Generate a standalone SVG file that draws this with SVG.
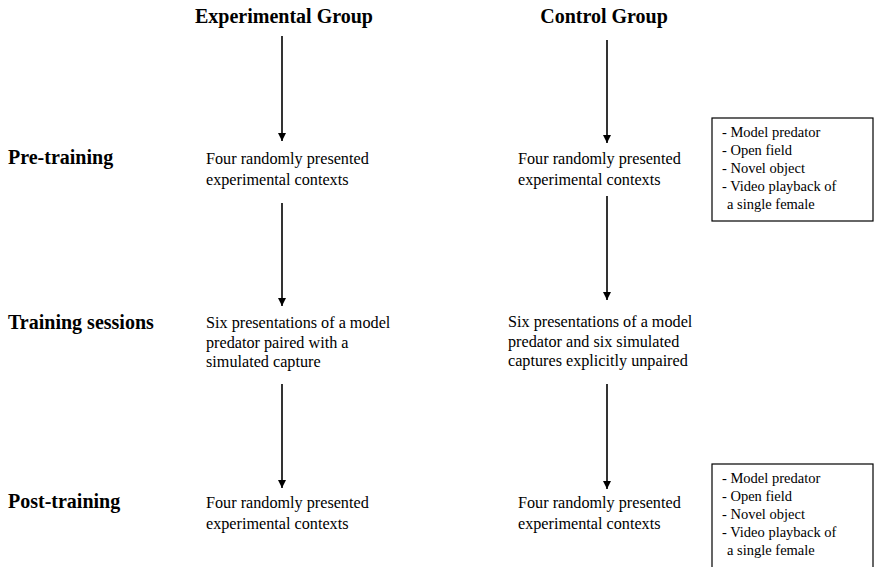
<svg xmlns="http://www.w3.org/2000/svg" width="874" height="567" viewBox="0 0 874 567">
<defs>
<style>
.h{font-family:"Liberation Serif","Times New Roman",serif;font-weight:bold;font-size:20px;fill:#000}
.t{font-family:"Liberation Serif","Times New Roman",serif;font-size:16.2px;fill:#000}
.b{font-family:"Liberation Serif","Times New Roman",serif;font-size:14.5px;fill:#000}
.ln{stroke:#000;stroke-width:1.6;fill:none}
.box{stroke:#000;stroke-width:1.2;fill:#fff}
</style>
<marker id="ah" viewBox="0 0 10 10" refX="10" refY="5" markerWidth="8" markerHeight="8" markerUnits="userSpaceOnUse" orient="auto">
<path d="M0,0 L10,5 L0,10 z" fill="#000"/>
</marker>
</defs>
<rect width="874" height="567" fill="#fff"/>
<g id="headers">
<text class="h" x="284" y="23" text-anchor="middle">Experimental Group</text>
<text class="h" x="604" y="23" text-anchor="middle">Control Group</text>
</g>
<g id="row-labels">
<text class="h" x="8" y="164">Pre-training</text>
<text class="h" x="8" y="329">Training sessions</text>
<text class="h" x="8" y="508">Post-training</text>
</g>
<g id="exp-pre">
<text class="t" x="206" y="164">Four randomly presented</text>
<text class="t" x="206" y="185">experimental contexts</text>
</g>
<g id="ctl-pre">
<text class="t" x="518" y="164">Four randomly presented</text>
<text class="t" x="518" y="185">experimental contexts</text>
</g>
<g id="exp-train">
<text class="t" x="206" y="328">Six presentations of a model</text>
<text class="t" x="206" y="348">predator paired with a</text>
<text class="t" x="206" y="367">simulated capture</text>
</g>
<g id="ctl-train">
<text class="t" x="508" y="327">Six presentations of a model</text>
<text class="t" x="508" y="347">predator and six simulated</text>
<text class="t" x="508" y="366">captures explicitly unpaired</text>
</g>
<g id="exp-post">
<text class="t" x="206" y="508">Four randomly presented</text>
<text class="t" x="206" y="529">experimental contexts</text>
</g>
<g id="ctl-post">
<text class="t" x="518" y="508">Four randomly presented</text>
<text class="t" x="518" y="529">experimental contexts</text>
</g>
<g id="contexts-box-pre">
<rect class="box" x="712" y="118" width="161" height="103"/>
<text class="b" x="722" y="137">- Model predator</text>
<text class="b" x="722" y="155">- Open field</text>
<text class="b" x="722" y="173">- Novel object</text>
<text class="b" x="722" y="191">- Video playback of</text>
<text class="b" x="727" y="209">a single female</text>
</g>
<g id="contexts-box-post">
<rect class="box" x="712" y="464" width="161" height="110"/>
<text class="b" x="722" y="483">- Model predator</text>
<text class="b" x="722" y="501">- Open field</text>
<text class="b" x="722" y="519">- Novel object</text>
<text class="b" x="722" y="537">- Video playback of</text>
<text class="b" x="727" y="555">a single female</text>
</g>
<g id="connectors">
<line class="ln" x1="282" y1="36" x2="282" y2="141" marker-end="url(#ah)"/>
<line class="ln" x1="607" y1="40" x2="607" y2="143" marker-end="url(#ah)"/>
<line class="ln" x1="282" y1="203" x2="282" y2="306" marker-end="url(#ah)"/>
<line class="ln" x1="607" y1="196" x2="607" y2="300" marker-end="url(#ah)"/>
<line class="ln" x1="282" y1="384" x2="282" y2="488" marker-end="url(#ah)"/>
<line class="ln" x1="607" y1="384" x2="607" y2="489" marker-end="url(#ah)"/>
</g>
</svg>
